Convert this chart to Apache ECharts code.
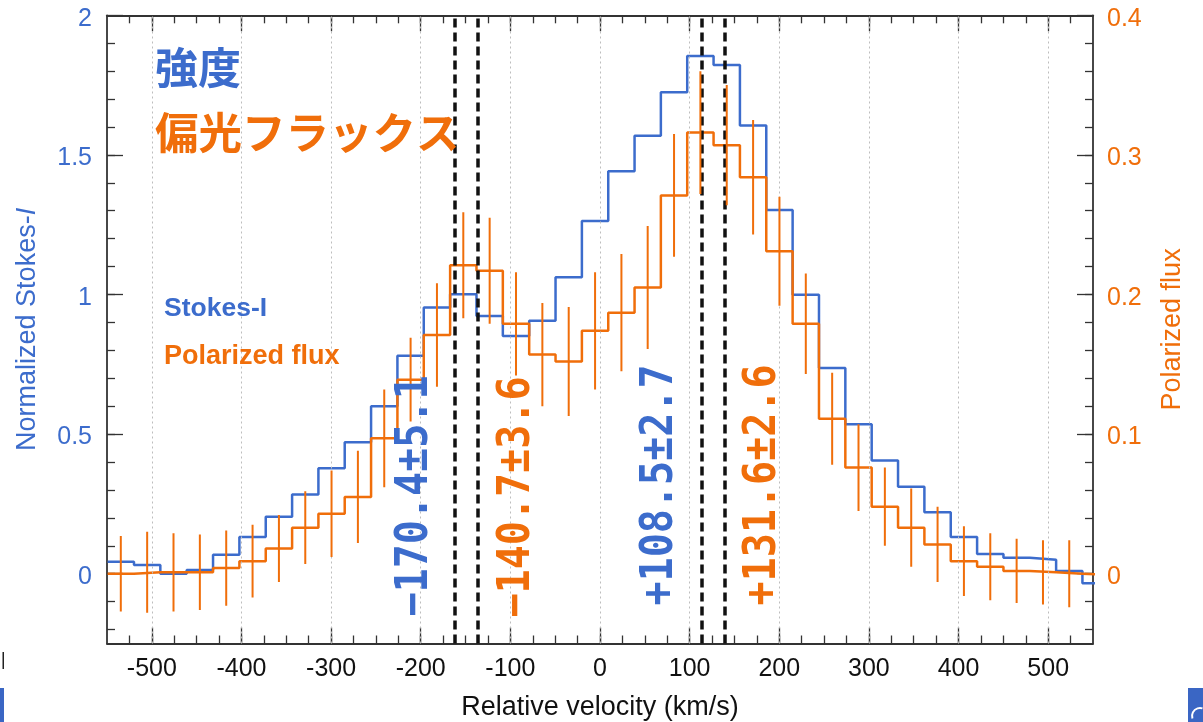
<!DOCTYPE html>
<html>
<head>
<meta charset="utf-8">
<script src="https://cdn.jsdelivr.net/npm/echarts@6/dist/echarts.min.js"></script>
<style>
html,body{margin:0;padding:0;background:#fff;}
#c{width:1203px;height:722px;}
</style>
</head>
<body>
<div id="c"></div>
<script>
// ---- data ----
const velocity = [-534.6,-505.2,-475.8,-446.4,-417.0,-387.6,-358.2,-328.8,-299.5,-270.1,-240.7,-211.3,-181.9,-152.5,-123.1,-93.7,-64.3,-34.9,-5.5,23.9,53.2,82.6,112.0,141.4,170.8,200.2,229.6,259.0,288.4,317.8,347.2,376.6,406.0,435.4,464.8,494.2,523.5,552.9];
const stokesI = [0.043,0.031,0.000,0.013,0.068,0.131,0.204,0.284,0.378,0.471,0.600,0.781,0.953,1.001,0.923,0.851,0.906,1.062,1.263,1.441,1.569,1.724,1.854,1.822,1.605,1.303,0.999,0.737,0.535,0.405,0.311,0.220,0.131,0.071,0.057,0.050,0.010,-0.034];
const polFlux = [0.000,0.001,0.001,0.001,0.004,0.009,0.018,0.033,0.043,0.055,0.097,0.139,0.171,0.221,0.217,0.179,0.157,0.152,0.174,0.187,0.205,0.271,0.316,0.307,0.284,0.231,0.179,0.111,0.076,0.048,0.033,0.021,0.009,0.005,0.002,0.001,0.000,-0.001];
const polErr = [0.027,0.029,0.028,0.027,0.027,0.026,0.024,0.026,0.031,0.033,0.035,0.030,0.037,0.038,0.038,0.037,0.037,0.039,0.042,0.042,0.044,0.044,0.044,0.043,0.041,0.039,0.036,0.033,0.031,0.028,0.028,0.027,0.025,0.024,0.023,0.023,0.024,0.024];
const peakLines = [-161.8, -136.9, 113.5, 138.8];
const peakLabels = ['\u2212170.4\u00b15.1', '\u2212140.7\u00b13.6', '+108.5\u00b12.7', '+131.6\u00b12.6'];
const xTicks = [-500,-400,-300,-200,-100,0,100,200,300,400,500];
const yLeftTicks = [0,0.5,1,1.5,2];
const yRightTicks = [0,0.1,0.2,0.3,0.4];

const BLUE = '#3c6ccc';
const ORANGE = '#f06e0a';
const AXIS = '#333';

// minor tick positions
const xMinor = []; for (let v = -525; v <= 525; v += 25) xMinor.push(v);
const yLeftMinor = []; for (let k = -2; k <= 19; k++) yLeftMinor.push(+(k * 0.1).toFixed(2));
const yRightMinor = []; for (let k = -2; k <= 19; k++) yRightMinor.push(+(k * 0.02).toFixed(3));

// histogram edges from bin centres
const edges = [];
for (let i = 0; i < velocity.length; i++) {
  if (i === 0) edges.push(velocity[0] - (velocity[1] - velocity[0]) / 2);
  else edges.push((velocity[i - 1] + velocity[i]) / 2);
}
const lastEdge = velocity[velocity.length - 1] + (velocity[velocity.length - 1] - velocity[velocity.length - 2]) / 2;
function stepData(vals) {
  const d = vals.map((v, i) => [edges[i], v]);
  d.push([lastEdge, vals[vals.length - 1]]);
  return d;
}

const FONT = '"Liberation Sans", Arial, Helvetica, sans-serif';
const MONO = 'bold 45px "DejaVu Sans Mono"';

function xAx(pos, minor, extra) {
  return Object.assign({
    type: 'value', position: pos, min: -550, max: 550,
    axisLine: { show: !minor, onZero: false, lineStyle: { color: AXIS, width: 1.8 } },
    axisTick: { show: true, inside: true, length: minor ? 8 : 16, customValues: minor ? xMinor : xTicks, lineStyle: { color: AXIS, width: 1.3 } },
    axisLabel: { show: false },
    splitLine: { show: false }
  }, extra || {});
}
function yAx(pos, min, max, major, minorVals, minor, extra) {
  return Object.assign({
    type: 'value', position: pos, min: min, max: max,
    axisLine: { show: !minor, onZero: false, lineStyle: { color: AXIS, width: 1.8 } },
    axisTick: { show: true, inside: true, length: minor ? 8 : 16, customValues: minor ? minorVals : major, lineStyle: { color: AXIS, width: 1.3 } },
    axisLabel: { show: false },
    splitLine: { show: false }
  }, extra || {});
}
function yLabel(color, margin) {
  return {
    show: true, margin: margin, color: color, fontSize: 25, fontFamily: FONT,
    formatter: v => '{a|' + v + '}',
    rich: { a: { fontSize: 25, fontFamily: FONT, color: color, padding: [7, 0, 0, 0] } }
  };
}

const chart = echarts.init(document.getElementById('c'), null, { renderer: 'canvas' });

function peakText(i, x, y, color) {
  return { type: 'text', x: x, y: y, rotation: Math.PI / 2, scaleX: 0.89, scaleY: 1, z: 20,
    style: { text: peakLabels[i], font: MONO, fill: color, align: 'center', verticalAlign: 'middle' } };
}

const option = {
  animation: false,
  backgroundColor: '#fff',
  grid: { left: 107, right: 110, top: 15.3, bottom: 78.5, containLabel: false, outerBoundsMode: 'none' },
  xAxis: [
    xAx('bottom', false, {
      axisLabel: { show: true, customValues: xTicks, fontSize: 25, color: '#111', fontFamily: FONT, margin: 13 },
      name: 'Relative velocity (km/s)', nameLocation: 'middle', nameGap: 51,
      nameTextStyle: { fontSize: 27, color: '#111', fontFamily: FONT }
    }),
    xAx('bottom', true),
    xAx('top', false),
    xAx('top', true)
  ],
  yAxis: [
    yAx('left', -0.25, 2, yLeftTicks, yLeftMinor, false, {
      axisLabel: Object.assign(yLabel(BLUE, 15), { customValues: yLeftTicks }),
      name: 'Normalized Stokes-{i|I}', nameLocation: 'middle', nameGap: 66, nameRotate: 90,
      nameTextStyle: { fontSize: 27, color: BLUE, fontFamily: FONT, rich: { i: { fontSize: 27, color: BLUE, fontStyle: 'italic', fontFamily: FONT } } }
    }),
    yAx('right', -0.05, 0.4, yRightTicks, yRightMinor, false, {
      axisLabel: Object.assign(yLabel(ORANGE, 14), { customValues: yRightTicks }),
      name: 'Polarized flux', nameLocation: 'middle', nameGap: 66, nameRotate: 90,
      nameTextStyle: { fontSize: 27, color: ORANGE, fontFamily: FONT }
    }),
    yAx('left', -0.25, 2, yLeftTicks, yLeftMinor, true),
    yAx('right', -0.05, 0.4, yRightTicks, yRightMinor, true)
  ],
  series: [
    {
      name: 'grid', type: 'line', xAxisIndex: 0, yAxisIndex: 0, data: [], z: 1,
      markLine: {
        silent: true, symbol: ['none', 'none'], animation: false, label: { show: false },
        lineStyle: { color: '#bdbdbd', width: 1, type: [2, 3] },
        data: xTicks.map(v => ({ xAxis: v }))
      }
    },
    {
      name: 'Stokes-I', type: 'line', xAxisIndex: 0, yAxisIndex: 0, step: 'end',
      data: stepData(stokesI), showSymbol: false, symbol: 'none',
      lineStyle: { color: BLUE, width: 2.5 }, itemStyle: { color: BLUE }, z: 3
    },
    {
      name: 'Polarized flux', type: 'line', xAxisIndex: 0, yAxisIndex: 1, step: 'end',
      data: stepData(polFlux), showSymbol: false, symbol: 'none',
      lineStyle: { color: ORANGE, width: 2.5 }, itemStyle: { color: ORANGE }, z: 4
    },
    {
      name: 'errors', type: 'custom', xAxisIndex: 0, yAxisIndex: 1, clip: true, z: 5,
      data: velocity.map((v, i) => [v, polFlux[i], polErr[i]]),
      encode: { x: 0, y: 1 },
      renderItem: function (params, api) {
        const x = api.value(0), y = api.value(1), e = api.value(2);
        const p1 = api.coord([x, y - e]);
        const p2 = api.coord([x, y + e]);
        return { type: 'line', shape: { x1: p1[0], y1: p1[1], x2: p2[0], y2: p2[1] }, style: { stroke: ORANGE, lineWidth: 2 } };
      }
    },
    {
      name: 'peaks', type: 'line', xAxisIndex: 0, yAxisIndex: 0, data: [], z: 10,
      markLine: {
        silent: true, symbol: ['none', 'none'], animation: false,
        label: { show: false },
        lineStyle: { color: '#111', width: 3.5, type: [9, 5] },
        data: peakLines.map(v => ({ xAxis: v }))
      }
    }
  ],
  graphic: [
    { type: 'text', left: 155, top: 46, z: 20, style: { text: '強度', font: 'bold 43px "Noto Sans CJK JP"', fill: BLUE } },
    { type: 'text', left: 155, top: 111, z: 20, style: { text: '偏光フラックス', font: 'bold 43.5px "Noto Sans CJK JP"', fill: ORANGE } },
    { type: 'text', x: 164, y: 309, z: 20, style: { text: 'Stokes-I', font: 'bold 26.5px ' + FONT, fill: BLUE, verticalAlign: 'middle' } },
    { type: 'text', x: 164, y: 357, z: 20, style: { text: 'Polarized flux', font: 'bold 27px ' + FONT, fill: ORANGE, verticalAlign: 'middle' } },
    peakText(0, 415, 496, BLUE),
    peakText(1, 517, 497, ORANGE),
    peakText(2, 660, 485, BLUE),
    peakText(3, 763, 485, ORANGE),
    // small cropped artefacts at the picture edges
    { type: 'rect', shape: { x: 2.5, y: 652, width: 1.5, height: 17 }, style: { fill: '#222' } },
    { type: 'rect', shape: { x: 0, y: 688, width: 4, height: 34 }, style: { fill: '#3a66c4' } },
    { type: 'rect', shape: { x: 1188, y: 688, width: 15, height: 34 }, style: { fill: '#3a66c4' } },
    { type: 'arc', shape: { cx: 1200, cy: 716, r: 8, startAngle: Math.PI * 0.9, endAngle: Math.PI * 1.6 }, style: { stroke: '#fff', lineWidth: 2, fill: null } }
  ]
};
chart.setOption(option);
</script>
</body>
</html>
